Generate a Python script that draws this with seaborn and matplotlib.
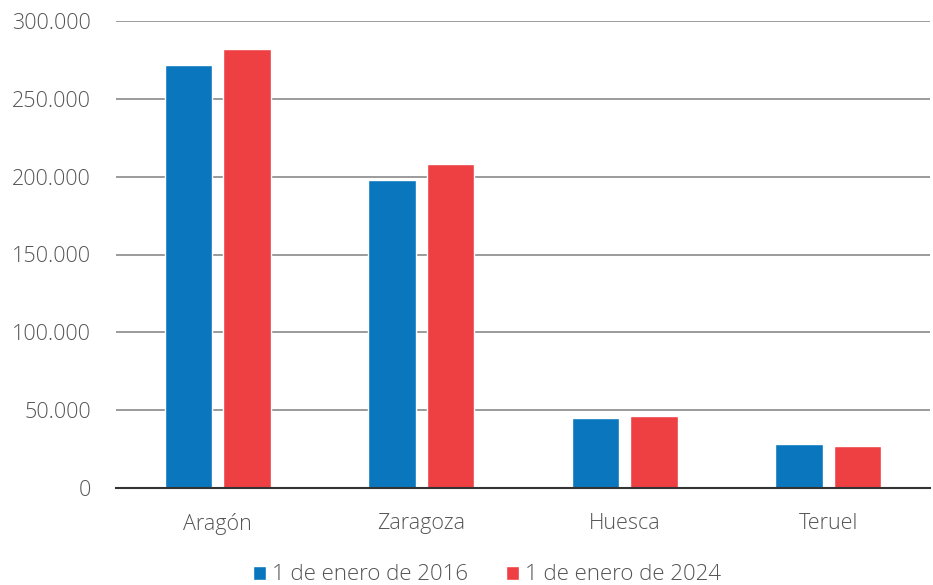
import seaborn as sns
import matplotlib.pyplot as plt
import pandas as pd
from matplotlib.ticker import FuncFormatter

# datos
territorios = ["Aragón", "Zaragoza", "Huesca", "Teruel"]
series = ["1 de enero de 2016", "1 de enero de 2024"]
valores_2016 = [271700, 197900, 45000, 28300]
valores_2024 = [282000, 208100, 46300, 27000]
colores = ["#0A76BD", "#EE3F43"]

df = pd.DataFrame({
    "territorio": territorios * 2,
    "serie": [series[0]] * 4 + [series[1]] * 4,
    "valor": valores_2016 + valores_2024,
})

sns.set_style("white")
plt.rcParams["font.family"] = ["Open Sans", "DejaVu Sans"]
plt.rcParams["font.weight"] = "light"

fig = plt.figure(figsize=(9.33, 5.85), dpi=100)
ax = fig.add_axes([116 / 933, 1 - 488 / 585, 1 - 116 / 933 - 3 / 933, 467 / 585])

sns.barplot(data=df, x="territorio", y="valor", hue="serie", palette=colores,
            width=0.575, gap=0.19, ax=ax, saturation=1, legend=True)

ax.set_ylim(0, 300000)
ax.set_yticks(range(0, 300001, 50000))
ax.yaxis.set_major_formatter(FuncFormatter(lambda v, p: f"{int(v):,}".replace(",", ".")))
ax.grid(axis="y", color="#8a8a8a", linewidth=1.2)
ax.set_axisbelow(True)
for s in ["top", "right", "left"]:
    ax.spines[s].set_visible(False)
ax.spines["bottom"].set_color("#333333")
ax.spines["bottom"].set_linewidth(1.5)
ax.set_xlabel("")
ax.set_ylabel("")
ax.tick_params(axis="both", length=0, labelsize=15.5, labelcolor="#555555")
ax.tick_params(axis="x", pad=18)
ax.tick_params(axis="y", pad=18)

ax.get_legend().remove()
handles, labels = ax.get_legend_handles_labels()
fig.legend(handles, labels, loc="lower center", bbox_to_anchor=(487 / 933, -0.035), ncol=2,
           frameon=False, fontsize=16, handlelength=0.6, handleheight=0.6,
           handletextpad=0.25, columnspacing=1.7, labelcolor="#555555")

fig.savefig("out.png", dpi=100)
